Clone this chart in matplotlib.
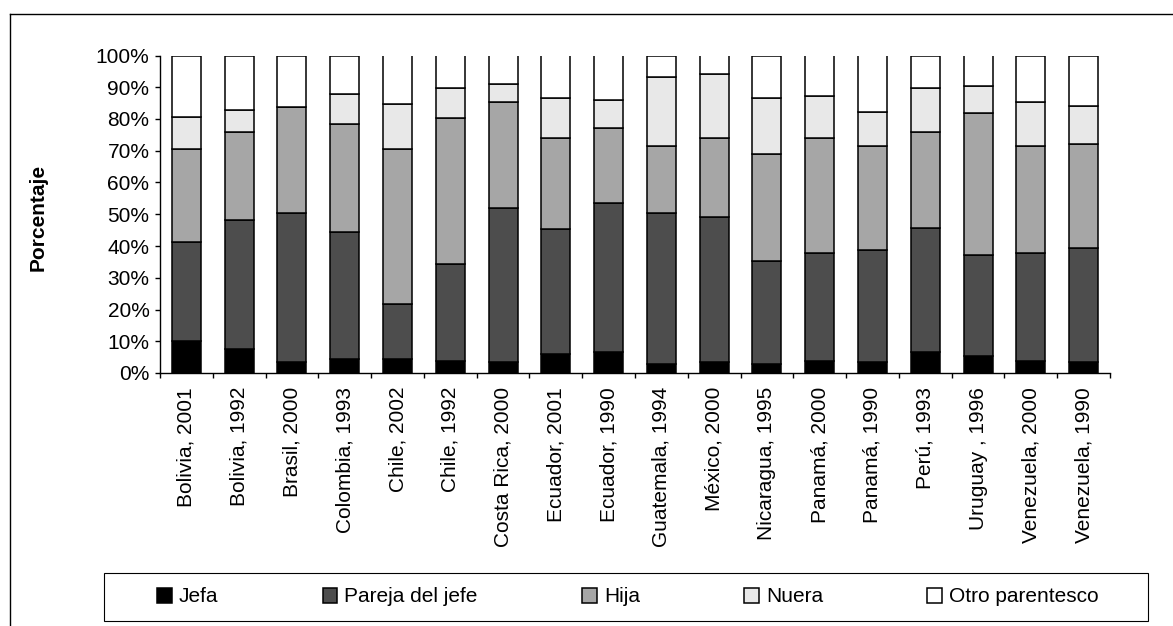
import matplotlib
matplotlib.use("Agg")
import matplotlib.pyplot as plt
import numpy as np
from matplotlib.patches import Rectangle
from matplotlib.lines import Line2D

plt.rcParams['font.family'] = ['Liberation Sans', 'DejaVu Sans']

categories = ["Bolivia, 2001", "Bolivia, 1992", "Brasil, 2000", "Colombia, 1993",
              "Chile, 2002", "Chile, 1992", "Costa Rica, 2000", "Ecuador, 2001",
              "Ecuador, 1990", "Guatemala, 1994", "México, 2000", "Nicaragua, 1995",
              "Panamá, 2000", "Panamá, 1990", "Perú, 1993", "Uruguay , 1996",
              "Venezuela, 2000", "Venezuela, 1990"]

jefa = [10.2, 7.6, 3.4, 4.5, 4.5, 3.9, 3.4, 5.9, 6.5, 2.8, 3.4, 2.8, 3.9, 3.4, 6.5, 5.2, 3.9, 3.4]
pareja = [31.2, 40.7, 46.9, 40.0, 17.3, 30.4, 48.6, 39.3, 46.9, 47.5, 45.6, 32.5, 33.8, 35.4, 39.3, 31.9, 33.8, 36.1]
hija = [29.0, 27.6, 33.4, 33.8, 48.6, 46.0, 33.4, 28.8, 23.8, 21.2, 25.0, 33.8, 36.3, 32.7, 30.2, 44.7, 33.8, 32.6]
nuera = [10.1, 7.0, 0.0, 9.7, 14.4, 9.4, 5.7, 12.7, 8.9, 21.6, 20.2, 17.6, 13.2, 10.8, 13.9, 8.7, 13.9, 12.1]
otro = [19.5, 17.1, 16.3, 12.0, 15.2, 10.3, 8.9, 13.3, 13.9, 6.9, 5.8, 13.3, 12.8, 17.7, 10.1, 9.5, 14.6, 15.8]

series_names = ["Jefa", "Pareja del jefe", "Hija", "Nuera", "Otro parentesco"]
series_values = [jefa, pareja, hija, nuera, otro]
colors = ["#000000", "#4d4d4d", "#a6a6a6", "#e8e8e8", "#ffffff"]

W, H = 1173, 626
fig = plt.figure(figsize=(W / 100, H / 100), dpi=100)
ax = fig.add_axes([160 / W, 1 - 373 / H, 950 / W, 317.5 / H])

x = np.arange(len(categories))
bottom = np.zeros(len(categories))
handles = []
for name, vals, c in zip(series_names, series_values, colors):
    vals = np.array(vals)
    b = ax.bar(x, vals, bottom=bottom, width=0.55, color=c, edgecolor="black",
               linewidth=1.1, label=name)
    handles.append(b)
    bottom += vals

ax.set_xlim(-0.5, len(categories) - 0.5)
ax.set_ylim(0, 100)
ax.set_yticks(np.arange(0, 101, 10))
ax.set_yticklabels([f"{v}%" for v in range(0, 101, 10)])
ax.set_xticks(x)
ax.set_xticklabels(categories, rotation=90, ha="center", va="top")
ax.set_xticks(np.arange(-0.5, len(categories), 1.0), minor=True)
ax.tick_params(axis="x", which="major", length=0, pad=10, labelsize=15)
ax.tick_params(axis="x", which="minor", length=3.6, width=1, direction="out", color="black")
ax.tick_params(axis="y", length=3.6, width=1, direction="out", pad=4, labelsize=15)

for s in ["top", "right"]:
    ax.spines[s].set_visible(False)
for s in ["left", "bottom"]:
    ax.spines[s].set_linewidth(1)
    ax.spines[s].set_color("black")

ax.set_ylabel("Porcentaje", fontsize=15, fontweight="bold")
ax.yaxis.set_label_coords(-0.118, 0.49)

# legend
leg = fig.legend(handles=handles, labels=series_names, ncol=5, frameon=False,
                 loc="center left", bbox_to_anchor=(157 / W, 1 - 597 / H),
                 borderaxespad=0, borderpad=0, handlelength=0.7, handleheight=0.7,
                 handletextpad=0.35, columnspacing=5.0, fontsize=15)
fig.add_artist(Rectangle((104 / W, 1 - 621 / H), 1044 / W, 48 / H, transform=fig.transFigure,
                         fill=False, edgecolor="black", linewidth=0.8))

# outer frame
fig.add_artist(Line2D([10 / W, 1.0], [1 - 14 / H, 1 - 14 / H], transform=fig.transFigure,
                      color="black", linewidth=1))
fig.add_artist(Line2D([10 / W, 10 / W], [1 - 14 / H, 0.0], transform=fig.transFigure,
                      color="black", linewidth=1))

fig.savefig("out.png", dpi=100)
